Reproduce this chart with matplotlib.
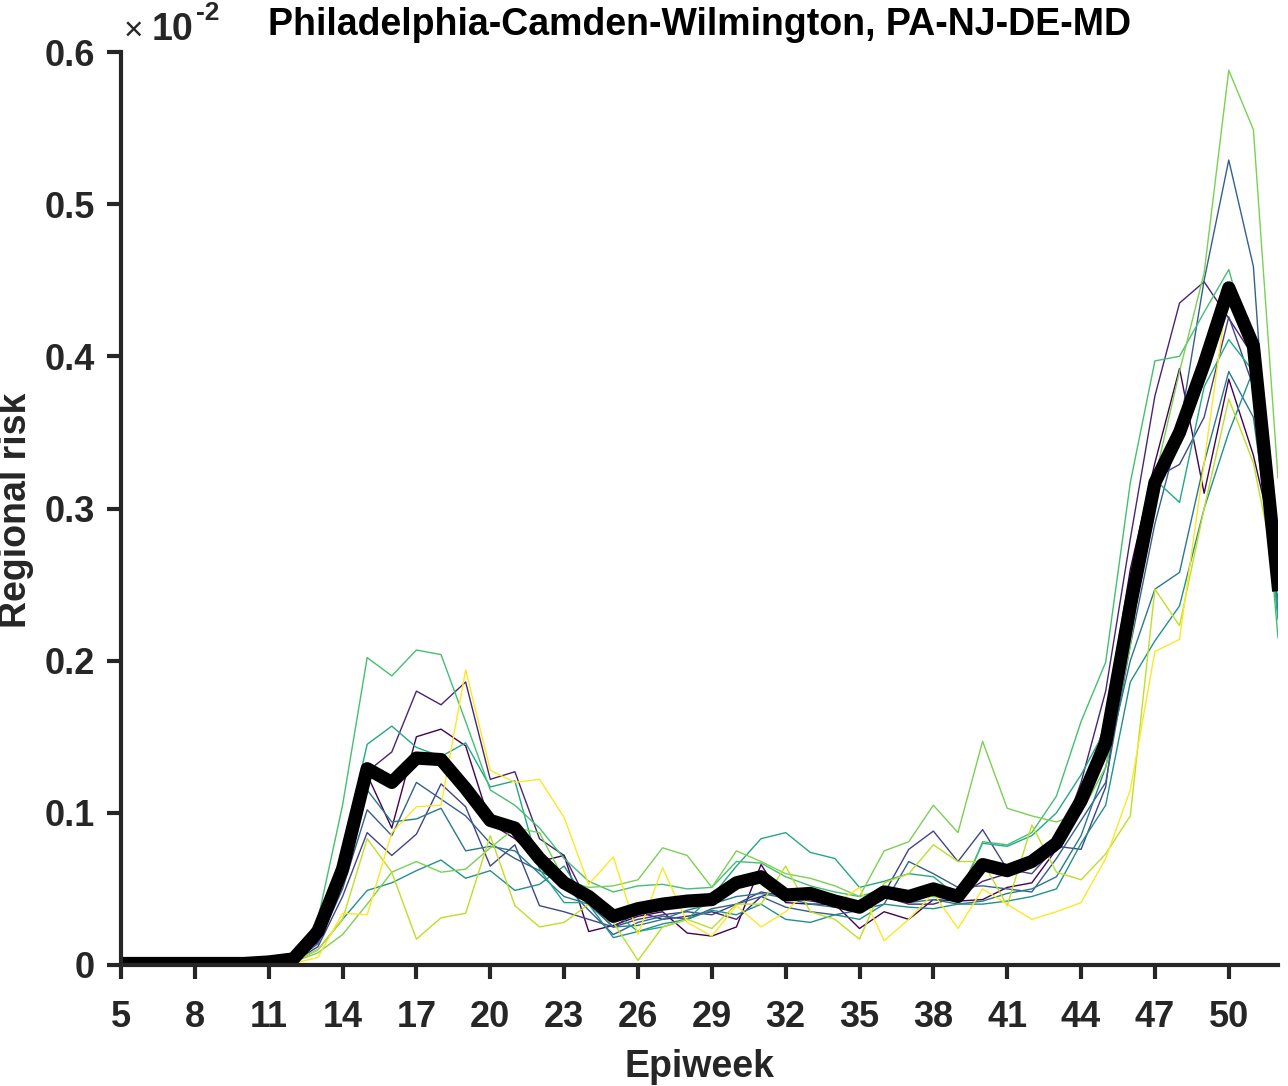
import matplotlib
matplotlib.use("Agg")
import matplotlib.pyplot as plt
import numpy as np

plt.rcParams['font.family'] = ['Liberation Sans', 'DejaVu Sans']

# regional risk, in units of 1e-2, weeks 5..52
weeks = list(range(5, 53))

mean_risk = [
    0.001, 0.001, 0.001, 0.001, 0.001, 0.001, 0.002, 0.004,
    0.022, 0.063, 0.129, 0.120, 0.136, 0.135, 0.116, 0.095,
    0.090, 0.070, 0.054, 0.045, 0.032, 0.037, 0.040, 0.042,
    0.043, 0.054, 0.058, 0.046, 0.047, 0.042, 0.038, 0.048,
    0.045, 0.050, 0.045, 0.066, 0.062, 0.068, 0.080, 0.108,
    0.146, 0.236, 0.317, 0.350, 0.395, 0.445, 0.407, 0.250,
]

run_0 = [
    0, 0, 0, 0, 0, 0, 0.001, 0.003,
    0.015, 0.055, 0.125, 0.090, 0.150, 0.155, 0.144, 0.093,
    0.083, 0.068, 0.072, 0.022, 0.026, 0.032, 0.035, 0.021,
    0.019, 0.025, 0.066, 0.041, 0.040, 0.040, 0.024, 0.035,
    0.030, 0.043, 0.042, 0.043, 0.051, 0.054, 0.076, 0.111,
    0.160, 0.260, 0.330, 0.392, 0.310, 0.385, 0.335, 0.265,
]
run_1 = [
    0, 0, 0, 0, 0, 0, 0.001, 0.003,
    0.020, 0.060, 0.127, 0.140, 0.180, 0.171, 0.186, 0.122,
    0.127, 0.083, 0.072, 0.040, 0.025, 0.035, 0.030, 0.032,
    0.035, 0.030, 0.045, 0.050, 0.045, 0.040, 0.035, 0.045,
    0.040, 0.040, 0.045, 0.055, 0.060, 0.065, 0.075, 0.120,
    0.180, 0.280, 0.374, 0.435, 0.449, 0.425, 0.400, 0.280,
]
run_2 = [
    0, 0, 0, 0, 0, 0, 0.001, 0.002,
    0.012, 0.045, 0.087, 0.072, 0.086, 0.119, 0.104, 0.065,
    0.079, 0.039, 0.035, 0.030, 0.025, 0.030, 0.033, 0.035,
    0.033, 0.040, 0.048, 0.045, 0.042, 0.040, 0.039, 0.047,
    0.076, 0.088, 0.068, 0.089, 0.063, 0.060, 0.078, 0.076,
    0.117, 0.240, 0.320, 0.329, 0.360, 0.426, 0.380, 0.265,
]
run_3 = [
    0, 0, 0, 0, 0, 0, 0.001, 0.002,
    0.014, 0.050, 0.102, 0.085, 0.120, 0.109, 0.098, 0.080,
    0.070, 0.062, 0.053, 0.036, 0.020, 0.028, 0.032, 0.030,
    0.037, 0.040, 0.045, 0.038, 0.035, 0.033, 0.036, 0.040,
    0.068, 0.060, 0.051, 0.052, 0.050, 0.048, 0.070, 0.095,
    0.120, 0.210, 0.290, 0.352, 0.450, 0.529, 0.459, 0.230,
]
run_4 = [
    0, 0, 0, 0, 0, 0, 0.001, 0.003,
    0.020, 0.065, 0.115, 0.094, 0.096, 0.103, 0.075, 0.078,
    0.075, 0.060, 0.045, 0.040, 0.025, 0.026, 0.030, 0.036,
    0.040, 0.045, 0.047, 0.044, 0.040, 0.038, 0.041, 0.045,
    0.041, 0.043, 0.040, 0.042, 0.047, 0.050, 0.058, 0.085,
    0.130, 0.200, 0.247, 0.258, 0.330, 0.390, 0.360, 0.240,
]
run_5 = [
    0, 0, 0, 0, 0, 0, 0.001, 0.002,
    0.010, 0.030, 0.049, 0.054, 0.062, 0.069, 0.057, 0.062,
    0.049, 0.053, 0.065, 0.040, 0.018, 0.022, 0.027, 0.030,
    0.036, 0.033, 0.040, 0.030, 0.028, 0.033, 0.030, 0.040,
    0.038, 0.037, 0.040, 0.040, 0.042, 0.045, 0.050, 0.080,
    0.105, 0.186, 0.213, 0.236, 0.300, 0.350, 0.391, 0.230,
]
run_6 = [
    0, 0, 0, 0, 0, 0, 0.001, 0.004,
    0.025, 0.075, 0.145, 0.157, 0.143, 0.137, 0.146, 0.117,
    0.121, 0.063, 0.041, 0.041, 0.035, 0.022, 0.025, 0.030,
    0.045, 0.065, 0.083, 0.087, 0.074, 0.070, 0.051, 0.055,
    0.060, 0.058, 0.045, 0.080, 0.078, 0.085, 0.100, 0.125,
    0.155, 0.240, 0.319, 0.304, 0.380, 0.411, 0.390, 0.227,
]
run_7 = [
    0, 0, 0, 0, 0, 0, 0.001, 0.004,
    0.030, 0.105, 0.202, 0.190, 0.207, 0.204, 0.160, 0.115,
    0.105, 0.090, 0.070, 0.055, 0.048, 0.052, 0.053, 0.050,
    0.051, 0.068, 0.067, 0.058, 0.052, 0.048, 0.045, 0.050,
    0.048, 0.045, 0.042, 0.081, 0.079, 0.087, 0.111, 0.160,
    0.199, 0.317, 0.397, 0.400, 0.429, 0.457, 0.400, 0.215,
]
run_8 = [
    0, 0, 0, 0, 0, 0, 0.001, 0.002,
    0.008, 0.020, 0.040, 0.061, 0.068, 0.061, 0.063, 0.077,
    0.090, 0.087, 0.056, 0.051, 0.052, 0.056, 0.077, 0.072,
    0.051, 0.075, 0.068, 0.060, 0.057, 0.052, 0.045, 0.075,
    0.081, 0.105, 0.087, 0.147, 0.103, 0.098, 0.094, 0.100,
    0.130, 0.210, 0.320, 0.390, 0.455, 0.588, 0.549, 0.320,
]
run_9 = [
    0, 0, 0, 0, 0, 0, 0.001, 0.002,
    0.010, 0.030, 0.083, 0.061, 0.017, 0.031, 0.034, 0.085,
    0.039, 0.025, 0.028, 0.040, 0.028, 0.003, 0.025, 0.030,
    0.024, 0.040, 0.040, 0.065, 0.035, 0.030, 0.017, 0.054,
    0.060, 0.079, 0.068, 0.068, 0.039, 0.092, 0.061, 0.056,
    0.073, 0.098, 0.247, 0.223, 0.300, 0.372, 0.330, 0.250,
]
run_10 = [
    0, 0, 0, 0, 0, 0, 0, 0.001,
    0.005, 0.034, 0.033, 0.087, 0.104, 0.105, 0.194, 0.128,
    0.120, 0.122, 0.097, 0.053, 0.071, 0.020, 0.064, 0.028,
    0.019, 0.039, 0.025, 0.035, 0.051, 0.040, 0.051, 0.016,
    0.030, 0.047, 0.024, 0.050, 0.040, 0.030, 0.035, 0.041,
    0.070, 0.115, 0.206, 0.214, 0.330, 0.448, 0.413, 0.245,
]

runs = [run_0, run_1, run_2, run_3, run_4, run_5, run_6, run_7, run_8, run_9, run_10]
title = 'Philadelphia-Camden-Wilmington, PA-NJ-DE-MD'
xticks = list(range(5, 51, 3))
yticks = [0, 0.1, 0.2, 0.3, 0.4, 0.5, 0.6]
ytick_labels = ['0', '0.1', '0.2', '0.3', '0.4', '0.5', '0.6']

ink = '#262626'
W, H = 1288, 1086

fig = plt.figure(figsize=(W / 100, H / 100), dpi=100)
ax = fig.add_axes([121 / W, 1 - 965 / H, (1278 - 121) / W, (965 - 52) / H])

colors = plt.cm.viridis(np.linspace(0, 1, len(runs)))
for run, c in zip(runs, colors):
    ax.plot(weeks, run, color=c, lw=1.0)
ax.plot(weeks, mean_risk, color='black', lw=9.5, solid_joinstyle='round')

ax.set_xlim(5, 52)
ax.set_ylim(0, 0.6)
ax.set_xticks(xticks)
ax.set_yticks(yticks)
ax.set_yticklabels(ytick_labels)

for side in ['top', 'right']:
    ax.spines[side].set_visible(False)
for side in ['left', 'bottom']:
    ax.spines[side].set_linewidth(3)
    ax.spines[side].set_color(ink)
ax.tick_params(direction='out', length=10, width=3, colors=ink, labelsize=26)
ax.tick_params(axis='x', pad=15)
ax.tick_params(axis='y', pad=9)
for lbl in ax.get_xticklabels() + ax.get_yticklabels():
    lbl.set_fontweight('bold')

ax.set_xlabel('Epiweek', fontsize=27, fontweight='bold', color=ink, labelpad=10)
ax.set_title(title, fontsize=27, fontweight='bold', pad=12)
fig.text(16 / W, 1 - 510 / H, 'Regional risk', fontsize=27, fontweight='bold',
         color=ink, rotation=90, ha='center', va='center')

# exponent label like MATLAB's axis multiplier
fig.text(124 / W, 1 - 40 / H, '\u00d7', fontsize=24, color=ink, ha='left', va='baseline')
fig.text(152 / W, 1 - 40 / H, '10', fontsize=27, fontweight='bold', color=ink,
         ha='left', va='baseline')
fig.text(196 / W, 1 - 20 / H, '-2', fontsize=19, fontweight='bold', color=ink,
         ha='left', va='baseline')

fig.savefig('out.png', dpi=100)
